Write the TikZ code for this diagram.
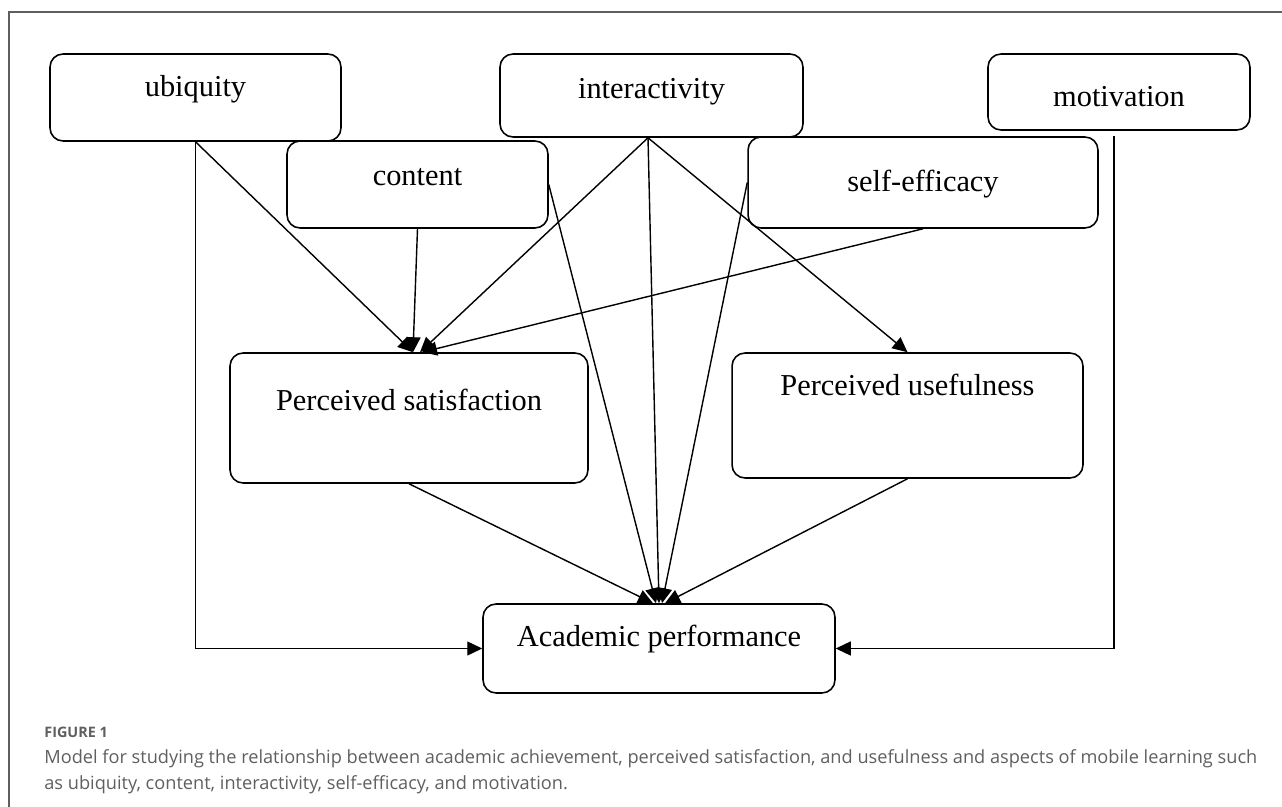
\documentclass[tikz,border=0pt]{standalone}
\usepackage{fontspec}
\setmainfont{Liberation Serif}
\newfontfamily\capfont{Open Sans}
\usetikzlibrary{arrows.meta}
\definecolor{capgray}{RGB}{95,95,95}
\begin{document}
\begin{tikzpicture}[x=0.02cm, y=-0.02cm,
    box/.style={draw, rounded corners=0.26cm, line width=0.9pt, inner xsep=0pt,
      inner ysep=0pt, anchor=base, font=\fontsize{17.3}{19}\selectfont},
    arr/.style={-{Triangle[length=0.3cm, width=0.28cm]}, line width=0.8pt}]
  \useasboundingbox (0,0) rectangle (1282,807);
  \draw[capgray, line width=0.7pt] (9,807) -- (9,12) -- (1282,12);
  % factors
  \node[box, minimum width=5.82cm, text height=0.86cm, text depth=0.88cm] (U) at (195.5,97) {ubiquity};
  \node[box, minimum width=5.22cm, text height=0.9cm, text depth=0.84cm] (C) at (417.5,186) {content};
  \node[box, minimum width=6.06cm, text height=0.9cm, text depth=0.76cm] (I) at (651.5,99) {interactivity};
  \node[box, minimum width=7cm, text height=1.1cm, text depth=0.72cm] (S) at (923,192) {self-efficacy};
  \node[box, minimum width=5.24cm, text height=1.06cm, text depth=0.46cm] (M) at (1119,107) {motivation};
  \node[box, minimum width=7.16cm, text height=1.16cm, text depth=1.44cm] (PS) at (409,411) {Perceived satisfaction};
  \node[box, minimum width=7.02cm, text height=0.86cm, text depth=1.64cm] (PU) at (907.5,396) {Perceived usefulness};
  \node[box, minimum width=7.04cm, text height=0.84cm, text depth=0.94cm] (AP) at (659,646) {Academic performance};
  % paths
  \draw[arr] (U.south) -- ([xshift=0.08cm]PS.north);
  \draw[arr] (U.south) |- (AP.west);
  \draw[arr] (C.south) -- ([xshift=0.08cm]PS.north);
  \draw[arr] ([xshift=-0.07cm]I.south) -- ([xshift=0.22cm]PS.north);
  \draw[arr] (S.south) -- ([xshift=0.26cm]PS.north);
  \draw[arr] ([xshift=-0.07cm]I.south) -- (PU.north);
  \draw[arr] ([xshift=-0.07cm]I.south) -- (AP.north);
  \draw[arr] (C.east) -- ([xshift=-0.06cm]AP.north);
  \draw[arr] (S.west) -- ([xshift=0.06cm]AP.north);
  \draw[arr] (PS.south) -- ([xshift=-0.12cm]AP.north);
  \draw[arr] (PU.south) -- ([xshift=0.12cm]AP.north);
  \draw[arr] ([xshift=-0.1cm, yshift=-0.1cm]M.south) |- (AP.east);
  % caption
  \node[anchor=base west, inner sep=0pt, text=capgray,
    font=\capfont\bfseries\fontsize{8.2}{10}\selectfont] (F) at (44,737) {FIGURE 1};
  \node[anchor=base west, inner sep=0pt, text=capgray, align=left,
    font=\capfont\fontsize{10.35}{14.7}\selectfont] (T) at (44,789)
    {Model for studying the relationship between academic achievement, perceived satisfaction, and usefulness and aspects of mobile learning such\\
     as ubiquity, content, interactivity, self-efficacy, and motivation.};
\end{tikzpicture}
\end{document}
